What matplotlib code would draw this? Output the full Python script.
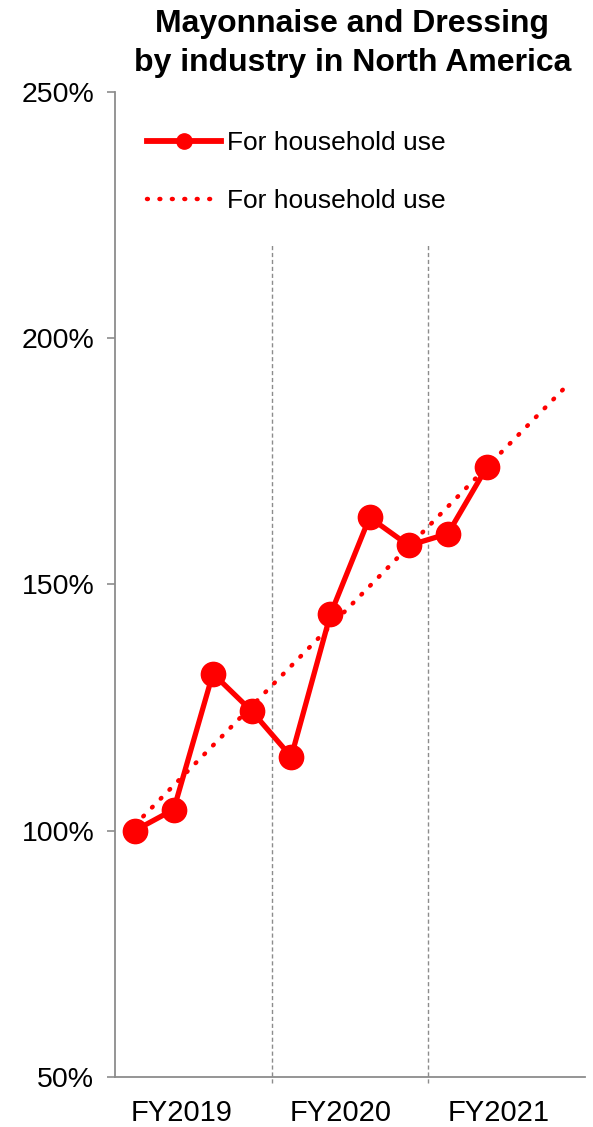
import numpy as np
import matplotlib
matplotlib.use("Agg")
import matplotlib.pyplot as plt

plt.rcParams['font.family'] = ['Liberation Sans', 'DejaVu Sans']

# Quarterly index (FY2019 Q1 = 100%), mayonnaise & dressing for household use
quarters = [1, 2, 3, 4, 5, 6, 7, 8, 9, 10]
household = [100.0, 104.3, 131.9, 124.2, 115.0, 143.9, 163.6, 157.9, 160.3, 173.9]
trend_span = list(range(1, 13))  # linear trend carried two quarters forward

fy_labels = ["FY2019", "FY2020", "FY2021"]
fy_label_pos = [2.2, 6.25, 10.3]
fy_boundaries = [4.5, 8.5]

y_ticks = [50, 100, 150, 200, 250]
y_tick_labels = ["50%", "100%", "150%", "200%", "250%"]

red = "#FF0000"
grey = "#8C8C8C"

fig = plt.figure(figsize=(5.93, 11.27), dpi=100)
ax = fig.add_axes([0.1939, 0.0444, 0.7926, 0.8741])

# linear trend fitted to the quarterly series
coef = np.polyfit(quarters, household, 1)
trend = np.polyval(coef, trend_span)

ax.plot(trend_span, trend, color=red, lw=3.2, linestyle=(0, (0.2, 2.6)),
        dash_capstyle='round', label="For household use", zorder=3)
line, = ax.plot(quarters, household, color=red, lw=3.8, marker='o', markersize=17.5,
                label="For household use", zorder=4)

# fiscal-year separators
ax.vlines(fy_boundaries, 48.8, 219.3, colors=grey, linestyles=(0, (3, 2)),
          lw=1.0, clip_on=False, zorder=2)

ax.set_xlim(0.5, 12.5)
ax.set_ylim(50, 250)
ax.set_yticks(y_ticks)
ax.set_yticklabels(y_tick_labels, fontsize=20.5)
ax.set_xticks(fy_label_pos)
ax.set_xticklabels(fy_labels, fontsize=21)
ax.tick_params(axis='x', length=0, pad=16)
ax.tick_params(axis='y', length=6, width=1.2, color=grey, direction='out', pad=9)

for side in ("top", "right"):
    ax.spines[side].set_visible(False)
for side in ("left", "bottom"):
    ax.spines[side].set_color(grey)
    ax.spines[side].set_linewidth(1.3)

handles, labels = ax.get_legend_handles_labels()
leg = ax.legend([handles[1], handles[0]], [labels[1], labels[0]],
                loc='upper left', bbox_to_anchor=(0.068, 0.96), frameon=False,
                fontsize=19, handlelength=2.8, handletextpad=0.25,
                labelspacing=1.28, borderpad=0, borderaxespad=0)
leg.legend_handles[0].set_markersize(11)
leg.legend_handles[0].set_linewidth(4.2)

fig.text(0.594, 0.992, "Mayonnaise and Dressing\nby industry in North America",
         ha='center', va='top', fontsize=23, fontweight='bold', linespacing=1.38)

fig.savefig("out.png", dpi=100)
